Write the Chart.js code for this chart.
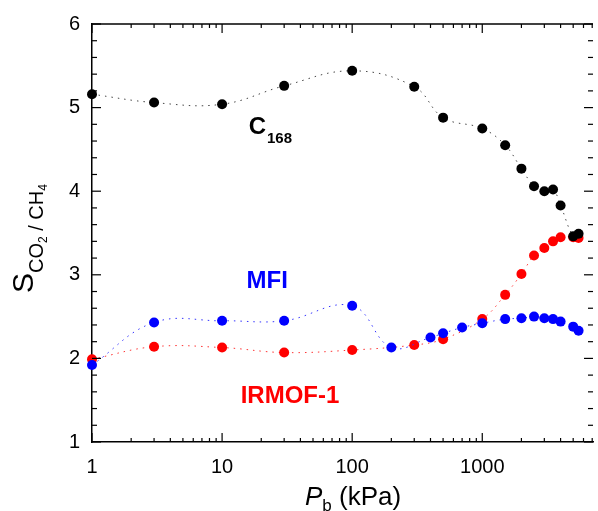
<!DOCTYPE html>
<html>
<head>
<meta charset="utf-8">
<title>Selectivity CO2/CH4</title>
<script src="https://cdn.jsdelivr.net/npm/chart.js@4.4.1/dist/chart.umd.min.js"></script>
<style>
  html, body { margin: 0; padding: 0; background: #fff; }
  #wrap { width: 598px; height: 511px; position: relative; }
</style>
</head>
<body>
<div id="wrap"><canvas id="selChart"></canvas></div>
<script>
// ===== DATA =====
const c168P = [1, 3, 10, 30, 100, 300, 500, 1000, 1500, 2000, 2500, 3000, 3500, 4000, 5000, 5500];
const c168S = [5.16, 5.06, 5.04, 5.26, 5.44, 5.25, 4.88, 4.75, 4.55, 4.27, 4.06, 4.00, 4.02, 3.83, 3.46, 3.49];

const mfiP = [1, 3, 10, 30, 100, 200, 400, 500, 700, 1000, 1500, 2000, 2500, 3000, 3500, 4000, 5000, 5500];
const mfiS = [1.92, 2.43, 2.45, 2.45, 2.63, 2.13, 2.25, 2.30, 2.37, 2.42, 2.47, 2.48, 2.50, 2.48, 2.47, 2.44, 2.38, 2.33];

const irmofP = [1, 3, 10, 30, 100, 300, 500, 1000, 1500, 2000, 2500, 3000, 3500, 4000, 5000, 5500];
const irmofS = [1.99, 2.14, 2.13, 2.07, 2.10, 2.16, 2.23, 2.47, 2.76, 3.01, 3.23, 3.32, 3.40, 3.45, 3.45, 3.44];

const xTickValues = [1, 10, 100, 1000];
const yTickValues = [1, 2, 3, 4, 5, 6];

const FONT = '"Liberation Sans", Arial, Helvetica, sans-serif';

function toPoints(xs, ys) {
    return xs.map((x, i) => ({ x: x, y: ys[i] }));
}

function seriesStyle(color, lineColor) {
    return {
        borderColor: lineColor,
        borderWidth: 1,
        borderDash: [1.5, 5],
        tension: 0.4,
        pointRadius: 5,
        pointBorderWidth: 0,
        pointBackgroundColor: color,
        clip: false
    };
}

// ===== FRAME, INWARD TICKS, TITLES, SERIES LABELS =====
const framePlugin = {
    id: 'framePlugin',
    afterDraw(chart) {
        const ctx = chart.ctx;
        const area = chart.chartArea;
        const xs = chart.scales.x;
        const ys = chart.scales.y;

        function seg(x1, y1, x2, y2) {
            ctx.beginPath();
            ctx.moveTo(x1, y1);
            ctx.lineTo(x2, y2);
            ctx.stroke();
        }

        ctx.save();
        ctx.strokeStyle = '#000';
        ctx.lineWidth = 1.5;
        seg(area.left, area.top, area.right, area.top);

        // log x ticks, bottom and top
        ctx.lineWidth = 1.2;
        for (let dec = 1; dec <= 1000; dec *= 10) {
            for (let m = 1; m <= 9; m++) {
                const v = dec * m;
                if (v > xs.max) break;
                const px = xs.getPixelForValue(v);
                const len = m === 1 ? 9 : 4;
                seg(px, area.bottom, px, area.bottom - len);
                seg(px, area.top, px, area.top + len);
            }
        }

        // linear y ticks, left and right
        for (let k = 0; k <= 25; k++) {
            const v = 1 + k * 0.2;
            const py = ys.getPixelForValue(v);
            const len = k % 5 === 0 ? 9 : 5;
            seg(area.left, py, area.left + len, py);
            seg(area.right, py, area.right - len, py);
        }

        // y title: S_{CO2 / CH4}, rotated
        ctx.fillStyle = '#000';
        ctx.textBaseline = 'alphabetic';
        ctx.textAlign = 'left';
        ctx.translate(33, 293);
        ctx.rotate(-Math.PI / 2);
        let u = 0;
        const parts = [
            { t: 'S', size: 30, dy: 0 },
            { t: 'CO', size: 20, dy: 10 },
            { t: '2', size: 12, dy: 14 },
            { t: ' / ', size: 20, dy: 10 },
            { t: 'CH', size: 20, dy: 10 },
            { t: '4', size: 12, dy: 14 }
        ];
        parts.forEach(p => {
            ctx.font = p.size + 'px ' + FONT;
            ctx.fillText(p.t, u, p.dy);
            u += ctx.measureText(p.t).width;
        });
        ctx.restore();

        // x title: P_b (kPa)
        ctx.save();
        ctx.fillStyle = '#000';
        ctx.textBaseline = 'alphabetic';
        let x = 305;
        ctx.font = 'italic 26px ' + FONT;
        ctx.fillText('P', x, 505);
        x += ctx.measureText('P').width;
        ctx.font = '17px ' + FONT;
        ctx.fillText('b', x, 511);
        x += ctx.measureText('b').width;
        ctx.font = '26px ' + FONT;
        ctx.fillText(' (kPa)', x, 505);
        ctx.restore();

        // series labels, placed in data coordinates
        ctx.save();
        ctx.textBaseline = 'alphabetic';
        ctx.font = 'bold 24px ' + FONT;
        ctx.fillStyle = '#000';
        let lx = xs.getPixelForValue(16);
        const ly = ys.getPixelForValue(4.68);
        ctx.fillText('C', lx, ly);
        lx += ctx.measureText('C').width + 1;
        ctx.font = 'bold 15px ' + FONT;
        ctx.fillText('168', lx, ly + 9);

        ctx.font = 'bold 24px ' + FONT;
        ctx.fillStyle = '#0000ff';
        ctx.fillText('MFI', xs.getPixelForValue(15.4), ys.getPixelForValue(2.845));
        ctx.fillStyle = '#ff0000';
        ctx.fillText('IRMOF-1', xs.getPixelForValue(13.9), ys.getPixelForValue(1.464));
        ctx.restore();
    }
};

// ===== CHART =====
const ctxEl = document.getElementById('selChart');
new Chart(ctxEl, {
    type: 'line',
    data: {
        datasets: [
            Object.assign({ label: 'C168', data: toPoints(c168P, c168S) }, seriesStyle('#000000', '#444444')),
            Object.assign({ label: 'MFI', data: toPoints(mfiP, mfiS) }, seriesStyle('#0000ff', '#3333ff')),
            Object.assign({ label: 'IRMOF-1', data: toPoints(irmofP, irmofS) }, seriesStyle('#ff0000', '#ff3333'))
        ]
    },
    options: {
        responsive: true,
        maintainAspectRatio: false,
        animation: false,
        layout: { padding: { top: 22, right: 0, left: 0, bottom: 0 } },
        plugins: {
            legend: { display: false },
            tooltip: { enabled: false }
        },
        scales: {
            x: {
                type: 'logarithmic',
                min: 1,
                max: 7100,
                afterBuildTicks: (scale) => {
                    scale.ticks = xTickValues.map(v => ({ value: v }));
                },
                afterFit: (scale) => { scale.height = 69; },
                grid: { display: false, drawTicks: false },
                border: { display: true, color: '#000', width: 1.5 },
                ticks: {
                    autoSkip: false,
                    maxRotation: 0,
                    padding: 13,
                    color: '#000',
                    font: { family: FONT, size: 20 },
                    callback: (v) => String(v)
                }
            },
            y: {
                type: 'linear',
                min: 1,
                max: 6,
                afterBuildTicks: (scale) => {
                    scale.ticks = yTickValues.map(v => ({ value: v }));
                },
                afterFit: (scale) => { scale.width = 92; },
                grid: { display: false, drawTicks: false },
                border: { display: true, color: '#000', width: 1.5 },
                ticks: {
                    padding: 12,
                    color: '#000',
                    font: { family: FONT, size: 20 }
                }
            }
        }
    },
    plugins: [framePlugin]
});
</script>
</body>
</html>
